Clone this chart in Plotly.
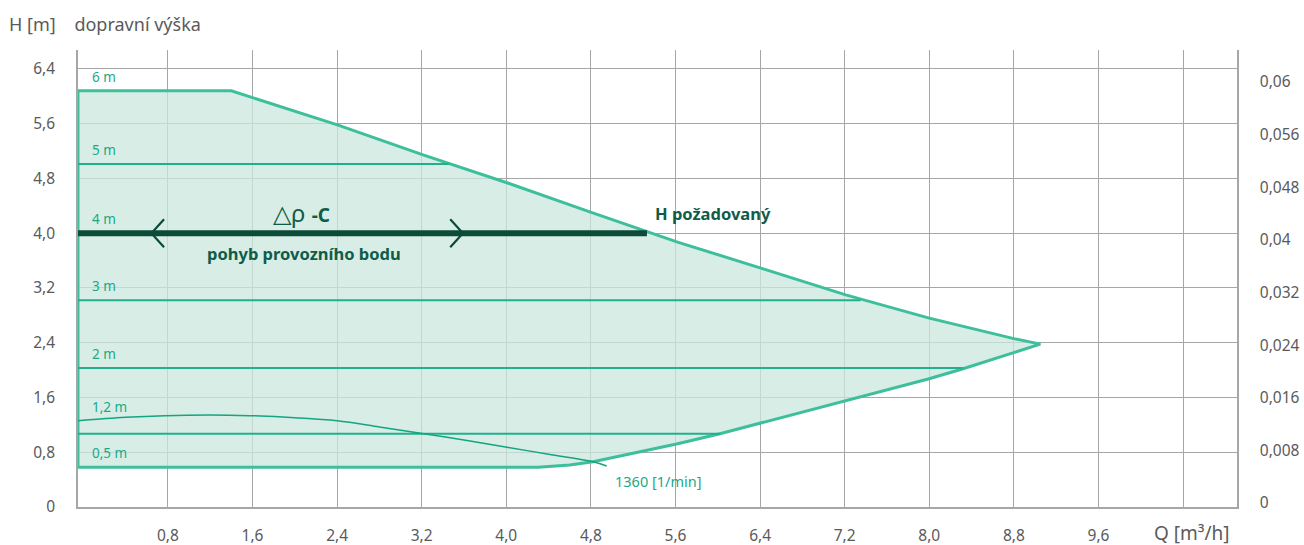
import plotly.graph_objects as go

# ---------------- data ----------------
# outer envelope of the pump field (Q in m3/h, H in m)
env_top_q = [-0.05, -0.05, 1.40, 2.41, 3.22, 4.02, 4.81, 5.62, 6.43, 7.21, 8.00, 8.40, 8.80, 9.05]
env_top_h = [0.58, 6.08, 6.08, 5.58, 5.14, 4.73, 4.30, 3.87, 3.48, 3.10, 2.76, 2.61, 2.46, 2.38]
env_bot_q = [8.79, 8.32, 7.99, 7.21, 6.43, 6.02, 5.61, 5.20, 4.82, 4.60, 4.45, 4.30, -0.05]
env_bot_h = [2.25, 2.02, 1.87, 1.55, 1.23, 1.07, 0.92, 0.78, 0.66, 0.615, 0.592, 0.58, 0.58]

# constant-pressure lines inside the field
level_h = [5.01, 3.02, 2.03, 1.07]
level_q_end = [3.46, 7.35, 8.32, 6.02]

# minimum speed curve (1360 1/min)
speed_q = [-0.05, 0.40, 0.77, 1.20, 1.57, 2.00, 2.40, 2.80, 3.22, 3.60, 4.02, 4.40, 4.82, 4.95]
speed_h = [1.26, 1.31, 1.335, 1.345, 1.335, 1.305, 1.26, 1.17, 1.07, 0.98, 0.87, 0.77, 0.66, 0.60]

# required head line (delta p - c)
op_h = 4.0
op_q_end = 5.33
arrow_q = [0.644, 3.59]
arrow_dir = [-1, 1]

# curve labels
curve_labels = ["6 m", "5 m", "4 m", "3 m", "2 m", "1,2 m", "0,5 m"]
curve_label_h = [6.08, 5.01, 4.00, 3.02, 2.03, 1.26, 0.58]

# axes
x_tickvals = [0.8, 1.6, 2.4, 3.2, 4.0, 4.8, 5.6, 6.4, 7.2, 8.0, 8.8, 9.6, 10.4]
x_ticktext = ["0,8", "1,6", "2,4", "3,2", "4,0", "4,8", "5,6", "6,4", "7,2", "8,0", "8,8", "9,6", ""]
y_tickvals = [0, 0.8, 1.6, 2.4, 3.2, 4.0, 4.8, 5.6, 6.4]
y_ticktext = ["0", "0,8", "1,6", "2,4", "3,2", "4,0", "4,8", "5,6", "6,4"]
y2_tickvals = [0, 0.008, 0.016, 0.024, 0.032, 0.040, 0.048, 0.056, 0.064]
y2_ticktext = ["0", "0,008", "0,016", "0,024", "0,032", "0,04", "0,048", "0,056", "0,06"]

# ---------------- style ----------------
FONT = "Noto Sans"
GRAY_TXT = "#5a5a5a"
GRID = "#a6a6a6"
FILL = "rgba(203,231,222,0.75)"
EDGE = "#3dbf9c"
LEVEL = "#22b08c"
SPEED = "#14a47f"
DARK = "#0b4b38"
DARK_TXT = "#0f5c48"
LABEL_GREEN = "#1aa987"

fig = go.Figure()

# envelope
poly_q = env_top_q + env_bot_q + [env_top_q[0]]
poly_h = env_top_h + env_bot_h + [env_top_h[0]]
fig.add_trace(go.Scatter(x=poly_q, y=poly_h, mode="lines", fill="toself",
                         fillcolor=FILL, line=dict(color=EDGE, width=3),
                         hoverinfo="skip", showlegend=False))

# level lines
for h, qe in zip(level_h, level_q_end):
    fig.add_trace(go.Scatter(x=[env_top_q[0], qe], y=[h, h], mode="lines",
                             line=dict(color=LEVEL, width=2),
                             hoverinfo="skip", showlegend=False))

# speed curve
fig.add_trace(go.Scatter(x=speed_q, y=speed_h, mode="lines",
                         line=dict(color=SPEED, width=1.5, shape="spline"),
                         hoverinfo="skip", showlegend=False))

# operating line
fig.add_trace(go.Scatter(x=[env_top_q[0], op_q_end], y=[op_h, op_h], mode="lines",
                         line=dict(color=DARK, width=6),
                         hoverinfo="skip", showlegend=False))

# chevrons
ARM_Q, ARM_H = 0.12, 0.205
for q, d in zip(arrow_q, arrow_dir):
    fig.add_trace(go.Scatter(x=[q - d * ARM_Q, q, q - d * ARM_Q],
                             y=[op_h + ARM_H, op_h, op_h - ARM_H], mode="lines",
                             line=dict(color=DARK, width=2.2),
                             hoverinfo="skip", showlegend=False))

# secondary axis carrier (invisible)
fig.add_trace(go.Scatter(x=[0], y=[0], yaxis="y2", mode="markers",
                         marker=dict(opacity=0), hoverinfo="skip", showlegend=False))

# curve labels
for txt, h in zip(curve_labels, curve_label_h):
    fig.add_annotation(x=env_top_q[0], y=h, text=txt, showarrow=False,
                       xanchor="left", yanchor="middle", xshift=12, yshift=14,
                       font=dict(family=FONT, size=13.5, color=LABEL_GREEN))

fig.add_annotation(x=2.06, y=4.30, text="△ρ <b><span style='font-size:19px'>-C</span></b>",
                   showarrow=False, xanchor="center", yanchor="middle",
                   font=dict(family=FONT, size=24, color=DARK_TXT))
fig.add_annotation(x=2.09, y=3.70, text="<b>pohyb provozního bodu</b>",
                   showarrow=False, xanchor="center", yanchor="middle",
                   font=dict(family=FONT, size=16.5, color=DARK_TXT))
fig.add_annotation(x=op_q_end, y=op_h, text="<b>H požadovaný</b>",
                   showarrow=False, xanchor="left", yanchor="middle",
                   xshift=6, yshift=20,
                   font=dict(family=FONT, size=16.5, color=DARK_TXT))
fig.add_annotation(x=speed_q[-1], y=speed_h[-1], text="1360 [1/min]",
                   showarrow=False, xanchor="left", yanchor="middle",
                   xshift=6, yshift=-15,
                   font=dict(family=FONT, size=14.5, color=LABEL_GREEN))

# axis titles
fig.add_annotation(xref="paper", yref="paper", x=-0.0609, y=1.057,
                   text="H [m]&nbsp;&nbsp;&nbsp;&nbsp;dopravní výška", showarrow=False,
                   xanchor="left", yanchor="middle",
                   font=dict(family=FONT, size=18, color=GRAY_TXT))
fig.add_annotation(xref="paper", yref="paper", x=0.9957, y=-0.057,
                   text="Q [m³/h]", showarrow=False,
                   xanchor="right", yanchor="middle",
                   font=dict(family=FONT, size=19, color=GRAY_TXT))

fig.update_layout(
    width=1304, height=545, autosize=False,
    margin=dict(l=78, r=67, t=50, b=38, autoexpand=False),
    paper_bgcolor="white", plot_bgcolor="white",
    font=dict(family=FONT, size=15.5, color=GRAY_TXT),
    xaxis=dict(range=[-0.05, 10.91], tickvals=x_tickvals, ticktext=x_ticktext,
               showgrid=True, gridcolor=GRID, gridwidth=1.2, automargin=False,
               zeroline=False, showline=True, linecolor=GRID, linewidth=1.5,
               ticks="", ticklabelstandoff=14,
               tickfont=dict(family=FONT, size=15.5, color=GRAY_TXT)),
    yaxis=dict(range=[0, 6.677], tickvals=y_tickvals, ticktext=y_ticktext,
               showgrid=True, gridcolor=GRID, gridwidth=1.2, automargin=False,
               zeroline=False, showline=True, linecolor=GRID, linewidth=1.5,
               ticks="", ticklabelstandoff=18,
               tickfont=dict(family=FONT, size=15.5, color=GRAY_TXT)),
    yaxis2=dict(overlaying="y", side="right", range=[-0.000608, 0.068865],
                tickvals=y2_tickvals, ticktext=y2_ticktext, automargin=False,
                showgrid=False, zeroline=False, showline=True,
                linecolor=GRID, linewidth=1.5, ticks="", ticklabelstandoff=18,
                tickfont=dict(family=FONT, size=15.5, color=GRAY_TXT)),
    showlegend=False,
)

fig.write_html("out.html", config={"displayModeBar": False},
               post_script="document.body.style.margin='0';document.body.style.padding='0';")
